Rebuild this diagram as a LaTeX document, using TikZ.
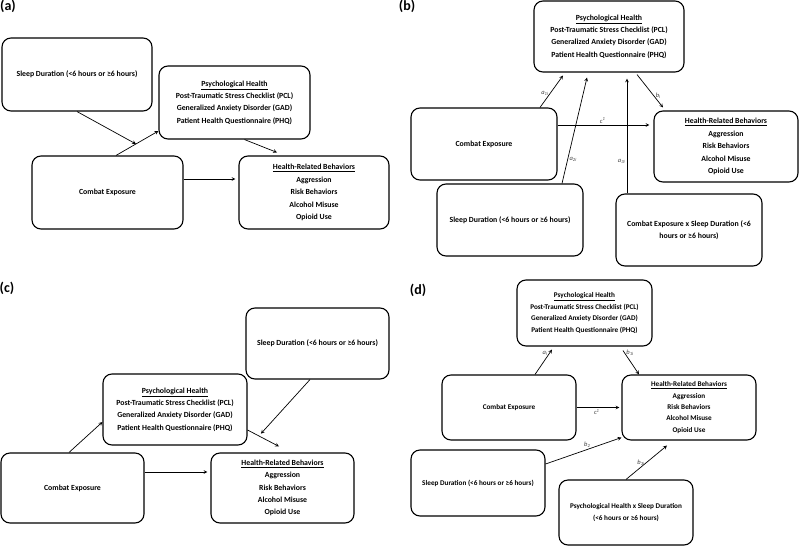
\documentclass[tikz,border=0pt]{standalone}
\usepackage{fontspec}
\setmainfont{Carlito}
\begin{document}
\begin{tikzpicture}[x=1pt,y=-1pt,
  varbox/.style={draw,rounded corners=9pt,line width=1.1pt,align=center,inner sep=2pt,font=\fontsize{7.8}{12.4}\selectfont\bfseries},
  link/.style={-stealth,line width=0.7pt},
  coef/.style={font=\fontsize{6.5}{7}\selectfont\itshape,text=black!75,inner sep=1.5pt},
  tag/.style={font=\fontsize{14}{16}\selectfont\bfseries,inner sep=0pt}]
\useasboundingbox (0,0) rectangle (800,546);
% (a)
\node[tag] (tagA) at (8,6) {(a)};
\node[varbox,minimum width=150pt,minimum height=73pt] (sleepA) at (77,74.5) {Sleep Duration (<6 hours or ≥6 hours)};
\node[varbox,minimum width=151pt,minimum height=73pt] (psychA) at (234.5,102.5) {\underline{Psychological Health}\\Post-Traumatic Stress Checklist (PCL)\\Generalized Anxiety Disorder (GAD)\\Patient Health Questionnaire (PHQ)};
\node[varbox,minimum width=151pt,minimum height=73pt] (combatA) at (107.5,192.5) {Combat Exposure};
\node[varbox,minimum width=150pt,minimum height=73pt] (healthA) at (314,192.5) {\underline{Health-Related Behaviors}\\Aggression\\Risk Behaviors\\Alcohol Misuse\\Opioid Use};
\draw[link] ([xshift=8.5pt]combatA.north) -- ([yshift=-28.5pt]psychA.west) coordinate[pos=0.47] (midA);
\draw[link] (sleepA.south) -- (midA);
\draw[link] ([xshift=10pt]psychA.south) -- ([xshift=-37pt,yshift=3pt]healthA.north);
\coordinate (ceA) at ([yshift=13.5pt]combatA.east);
\draw[link,shorten >=3pt] (ceA) -- (ceA -| healthA.west);
% (b)
\node[tag] (tagB) at (407,6) {(b)};
\node[varbox,minimum width=150pt,minimum height=71pt] (psychB) at (609,36.5) {\underline{Psychological Health}\\Post-Traumatic Stress Checklist (PCL)\\Generalized Anxiety Disorder (GAD)\\Patient Health Questionnaire (PHQ)};
\node[varbox,minimum width=146pt,minimum height=72pt] (combatB) at (484,144) {Combat Exposure};
\node[varbox,minimum width=144pt,minimum height=71pt] (healthB) at (726,146.5) {\underline{Health-Related Behaviors}\\Aggression\\Risk Behaviors\\Alcohol Misuse\\Opioid Use};
\node[varbox,minimum width=146pt,minimum height=72pt] (sleepB) at (510,220) {Sleep Duration (<6 hours or ≥6 hours)};
\node[varbox,minimum width=146pt,minimum height=72pt] (interB) at (689,230) {Combat Exposure x Sleep Duration (<6\\hours or ≥6 hours)};
\draw[link] ([xshift=56pt]combatB.north) -- ([xshift=-46pt,yshift=-3pt]psychB.south) node[coef,pos=0.45,left] {a\textsubscript{1i}};
\draw[link] ([xshift=52pt]sleepB.north) -- ([xshift=-22pt,yshift=-5pt]psychB.south) node[coef,pos=0.23,right] {a\textsubscript{2i}};
\draw[link] ([xshift=-62pt]interB.north) -- ([xshift=18pt,yshift=-6pt]psychB.south) node[coef,pos=0.28,left] {a\textsubscript{3i}};
\draw[link] ([xshift=28pt,yshift=-2pt]psychB.south) -- ([xshift=-63pt,yshift=3pt]healthB.north) node[coef,pos=0.65,right] {b\textsubscript{i}};
\coordinate (ceB) at ([yshift=19pt]combatB.east);
\draw[link,shorten >=4pt] (ceB) -- (ceB -| healthB.west) node[coef,pos=0.47,above] {c\textsuperscript{1}};
% (c)
\node[tag] (tagC) at (7,288) {(c)};
\node[varbox,minimum width=143pt,minimum height=71pt] (sleepC) at (317.5,343.5) {Sleep Duration (<6 hours or ≥6 hours)};
\node[varbox,minimum width=144pt,minimum height=71pt] (psychC) at (175,409.5) {\underline{Psychological Health}\\Post-Traumatic Stress Checklist (PCL)\\Generalized Anxiety Disorder (GAD)\\Patient Health Questionnaire (PHQ)};
\node[varbox,minimum width=143pt,minimum height=70pt] (combatC) at (72.5,488) {Combat Exposure};
\node[varbox,minimum width=143pt,minimum height=70pt] (healthC) at (282.5,488) {\underline{Health-Related Behaviors}\\Aggression\\Risk Behaviors\\Alcohol Misuse\\Opioid Use};
\draw[link] ([xshift=-3.5pt]combatC.north) -- ([yshift=-12.5pt]psychC.west);
\draw[link] ([yshift=-20.5pt]psychC.east) -- ([xshift=-3.5pt,yshift=6pt]healthC.north) coordinate[pos=0.36] (midC);
\draw[link,shorten >=3pt] ([xshift=-7.5pt]sleepC.south) -- (midC);
\coordinate (ceC) at ([yshift=16pt]combatC.east);
\draw[link,shorten >=3pt] (ceC) -- (ceC -| healthC.west);
% (d)
\node[tag] (tagD) at (418,290) {(d)};
\begin{scope}[varbox/.append style={font=\fontsize{7.2}{11.4}\selectfont\bfseries}]
\node[varbox,minimum width=135pt,minimum height=66pt] (psychD) at (584.5,313) {\underline{Psychological Health}\\Post-Traumatic Stress Checklist (PCL)\\Generalized Anxiety Disorder (GAD)\\Patient Health Questionnaire (PHQ)};
\node[varbox,minimum width=134pt,minimum height=65pt] (combatD) at (509,407.5) {Combat Exposure};
\node[varbox,minimum width=134pt,minimum height=65pt] (healthD) at (689,407.5) {\underline{Health-Related Behaviors}\\Aggression\\Risk Behaviors\\Alcohol Misuse\\Opioid Use};
\node[varbox,minimum width=134pt,minimum height=66pt] (sleepD) at (478,483) {Sleep Duration (<6 hours or ≥6 hours)};
\node[varbox,minimum width=134pt,minimum height=65pt] (interD) at (626,512.5) {Psychological Health x Sleep Duration\\(<6 hours or ≥6 hours)};
\end{scope}
\draw[link] ([xshift=26pt]combatD.north) -- ([xshift=-32.5pt,yshift=-3pt]psychD.south) node[coef,pos=0.85,left] {a\textsubscript{i}};
\draw[link] ([xshift=38.5pt,yshift=-4pt]psychD.south) -- ([xshift=-50pt]healthD.north) node[coef,pos=0.1,right] {b\textsubscript{1i}};
\draw[link,shorten >=2pt] (combatD.east) -- (healthD.west) node[coef,pos=0.45,below] {c\textsuperscript{1}};
\draw[link] ([yshift=19pt]sleepD.east) -- ([yshift=3pt]healthD.south west) node[coef,pos=0.55,above] {b\textsubscript{2}};
\draw[link] (interD.north) -- ([xshift=-22pt,yshift=-5pt]healthD.south) node[coef,pos=0.5,left] {b\textsubscript{3i}};
\end{tikzpicture}
\end{document}
